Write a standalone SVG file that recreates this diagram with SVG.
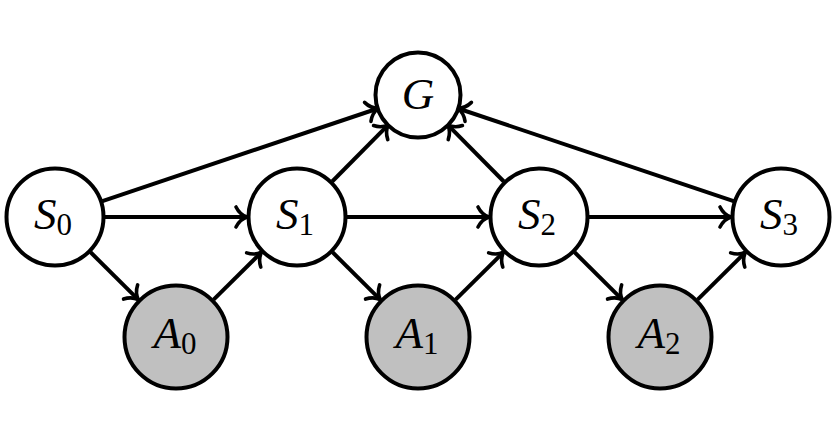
<svg xmlns="http://www.w3.org/2000/svg" width="838" height="438" viewBox="0 0 838 438">
<style>
.nd{stroke:#000;stroke-width:4;}
.s{fill:#fff;}
.a{fill:#c0c0c0;}
.lb{font-family:"Liberation Serif","Times New Roman",serif;font-size:45px;font-style:italic;fill:#000;}
.sub{font-style:normal;font-size:31px;}
.e{stroke:#000;stroke-width:4;fill:none;marker-end:url(#arr);}
</style>
<defs>
<marker id="arr" viewBox="-14 -14 20 28" refX="0" refY="0" markerWidth="20" markerHeight="28" markerUnits="userSpaceOnUse" orient="auto" overflow="visible">
<path d="M -9,-10 C -6,-4 -1,-1 2,0 C -1,1 -6,4 -9,10" fill="none" stroke="#000" stroke-width="3.6" stroke-linecap="round" stroke-linejoin="round"/>
</marker>
</defs>
<rect width="838" height="438" fill="#fff"/>
<g id="connectors">
<line class="e" x1="102.4" y1="201.1" x2="376.3" y2="109.0"/>
<line class="e" x1="733.6" y1="201.1" x2="459.7" y2="109.0"/>
<line class="e" x1="332.2" y1="181.5" x2="387.0" y2="126.2"/>
<line class="e" x1="503.8" y1="181.5" x2="449.0" y2="126.2"/>
<line class="e" x1="105" y1="217" x2="245" y2="217"/>
<line class="e" x1="347" y1="217" x2="487" y2="217"/>
<line class="e" x1="589" y1="217" x2="729" y2="217"/>
<line class="e" x1="90.5" y1="252.2" x2="137" y2="298.3"/>
<line class="e" x1="213.6" y1="299.7" x2="260.1" y2="253.6"/>
<line class="e" x1="332.5" y1="252.2" x2="379" y2="298.3"/>
<line class="e" x1="455.6" y1="299.7" x2="502.1" y2="253.6"/>
<line class="e" x1="574.5" y1="252.2" x2="621" y2="298.3"/>
<line class="e" x1="697.6" y1="299.7" x2="744.1" y2="253.6"/>
</g>
<g id="G"><circle class="nd s" cx="418" cy="95" r="42.5"/><text class="lb" x="418" y="109" text-anchor="middle">G</text></g>
<g id="S0"><circle class="nd s" cx="55" cy="217" r="48.5"/><text class="lb" x="53" y="229" text-anchor="middle">S<tspan class="sub" dy="6">0</tspan></text></g>
<g id="S1"><circle class="nd s" cx="297" cy="217" r="48.5"/><text class="lb" x="295" y="229" text-anchor="middle">S<tspan class="sub" dy="6">1</tspan></text></g>
<g id="S2"><circle class="nd s" cx="539" cy="217" r="48.5"/><text class="lb" x="537" y="229" text-anchor="middle">S<tspan class="sub" dy="6">2</tspan></text></g>
<g id="S3"><circle class="nd s" cx="781" cy="217" r="48.5"/><text class="lb" x="779" y="229" text-anchor="middle">S<tspan class="sub" dy="6">3</tspan></text></g>
<g id="A0"><circle class="nd a" cx="176" cy="337" r="51.5"/><text class="lb" x="175" y="348" text-anchor="middle">A<tspan class="sub" dy="6">0</tspan></text></g>
<g id="A1"><circle class="nd a" cx="418" cy="337" r="51.5"/><text class="lb" x="417" y="348" text-anchor="middle">A<tspan class="sub" dy="6">1</tspan></text></g>
<g id="A2"><circle class="nd a" cx="660" cy="337" r="51.5"/><text class="lb" x="659" y="348" text-anchor="middle">A<tspan class="sub" dy="6">2</tspan></text></g>
</svg>
